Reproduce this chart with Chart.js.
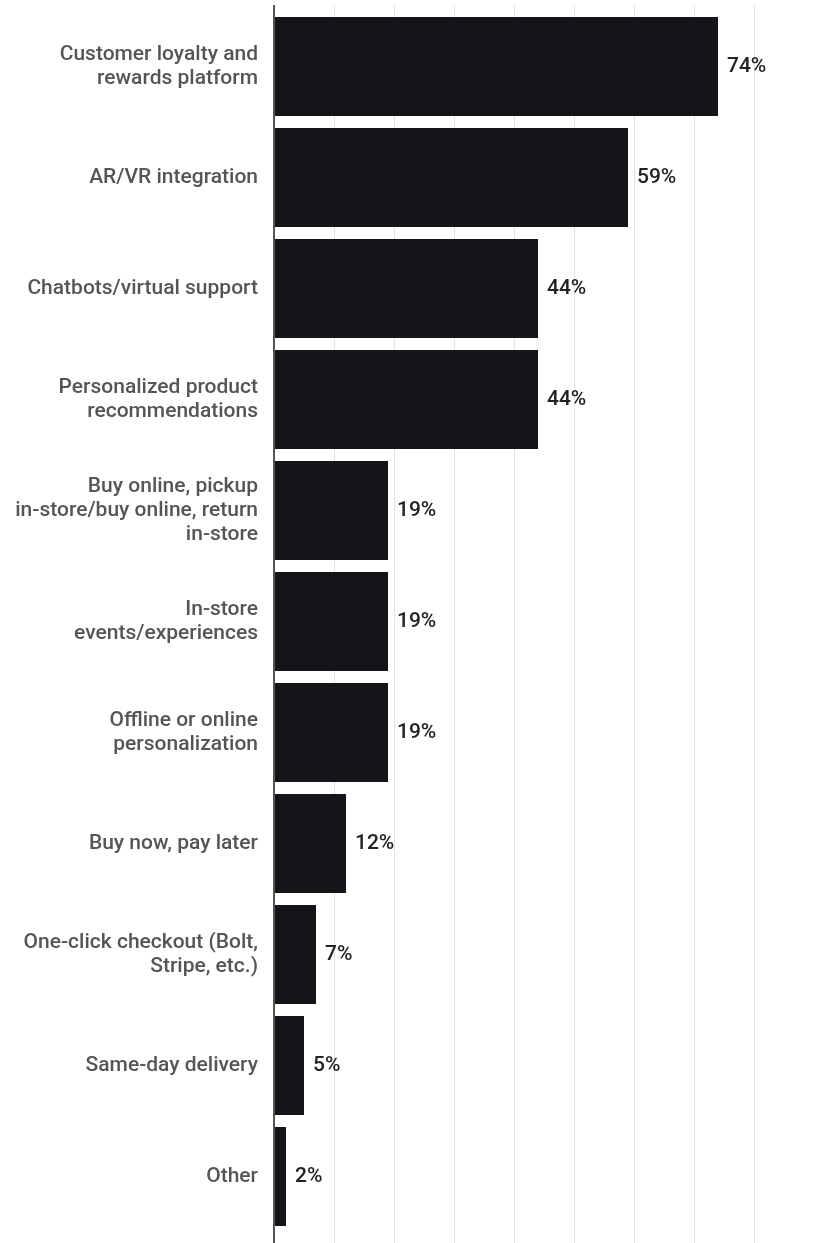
<!DOCTYPE html>
<html>
<head>
<meta charset="utf-8">
<script src="https://cdn.jsdelivr.net/npm/chart.js@4.4.0/dist/chart.umd.min.js"></script>
<style>
html,body{margin:0;padding:0;background:#fff;}
#wrap{position:relative;width:814px;height:1243px;}
</style>
</head>
<body>
<div id="wrap"><canvas id="c"></canvas></div>
<script>
const categories = [
  ["Customer loyalty and", "rewards platform"],
  "AR/VR integration",
  "Chatbots/virtual support",
  ["Personalized product", "recommendations"],
  ["Buy online, pickup", "in-store/buy online, return", "in-store"],
  ["In-store", "events/experiences"],
  ["Offline or online", "personalization"],
  "Buy now, pay later",
  ["One-click checkout (Bolt,", "Stripe, etc.)"],
  "Same-day delivery",
  "Other"
];
const values = [74, 59, 44, 44, 19, 19, 19, 12, 7, 5, 2];
const valueLabels = ["74%", "59%", "44%", "44%", "19%", "19%", "19%", "12%", "7%", "5%", "2%"];
const xMin = 0, xMax = 90, xStep = 10;

const valueLabelPlugin = {
  id: 'valueLabels',
  afterDatasetsDraw(chart) {
    const ctx = chart.ctx;
    const meta = chart.getDatasetMeta(0);
    ctx.save();
    ctx.font = '500 21px Roboto';
    ctx.fillStyle = '#222222';
    ctx.textAlign = 'left';
    ctx.textBaseline = 'middle';
    meta.data.forEach((bar, i) => {
      ctx.fillText(valueLabels[i], bar.x + 9, bar.y);
    });
    ctx.restore();
  }
};

const gridColor = (c) => (c.tick && c.tick.value === 0) ? '#555555' : '#e2e2e2';
const gridWidth = (c) => (c.tick && c.tick.value === 0) ? 2 : 1;

new Chart(document.getElementById('c'), {
  type: 'bar',
  data: {
    labels: categories,
    datasets: [{
      data: values,
      backgroundColor: '#141419',
      borderWidth: 0,
      barPercentage: 0.89,
      categoryPercentage: 1.0
    }]
  },
  options: {
    indexAxis: 'y',
    responsive: true,
    maintainAspectRatio: false,
    animation: false,
    layout: { padding: { top: 5, right: 0, bottom: 0, left: 0 } },
    plugins: { legend: { display: false }, tooltip: { enabled: false } },
    scales: {
      x: {
        position: 'bottom',
        min: xMin, max: xMax,
        ticks: { display: false, stepSize: xStep },
        grid: { color: gridColor, lineWidth: gridWidth, drawTicks: true, tickLength: 11 },
        border: { display: false }
      },
      x2: {
        position: 'top',
        min: xMin, max: xMax,
        ticks: { display: false, stepSize: xStep },
        grid: { color: gridColor, lineWidth: gridWidth, drawTicks: true, tickLength: 6 },
        border: { display: false }
      },
      y: {
        afterFit(s) { s.width = 274; s.paddingTop = 0; s.paddingBottom = 0; },
        ticks: {
          color: '#555555',
          padding: 16,
          font: { family: 'Roboto', size: 21, weight: '500', lineHeight: 1.15 },
          crossAlign: 'near'
        },
        grid: { display: false, drawTicks: false },
        border: { display: false }
      }
    }
  },
  plugins: [valueLabelPlugin]
});
</script>
</body>
</html>
